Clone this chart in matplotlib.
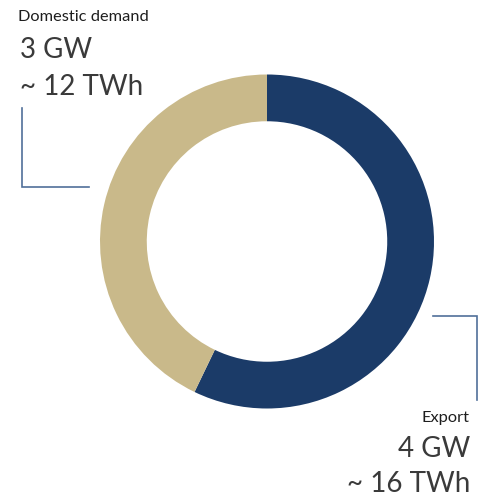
import matplotlib
matplotlib.use("Agg")
import matplotlib.pyplot as plt

# Power split
categories = ["Export", "Domestic demand"]
capacity_gw = [4, 3]
energy_twh = [16, 12]
colors = ["#1b3b68", "#c9b98a"]

W, H = 479, 496
fig = plt.figure(figsize=(W / 100, H / 100), dpi=100)
ax = fig.add_axes([0, 0, 1, 1])
ax.axis("off")


def py(y):
    """Convert a top-down pixel row into the axis's y coordinate."""
    return H - y


ax.pie(capacity_gw, colors=colors, startangle=90, counterclock=False,
       radius=167, center=(267, py(241.5)),
       wedgeprops=dict(width=167 * 0.28, linewidth=0))
ax.set_xlim(0, W)
ax.set_ylim(0, H)
ax.set_aspect("auto")

font = "Lato"
line_col = "#50709a"
label_col = "#1e1e1e"
value_col = "#3a3a3a"

# Domestic demand callout (top left)
ax.text(18, py(21), categories[1], fontsize=11.8, family=font,
        color=label_col, ha="left", va="baseline")
ax.text(20, py(58.5), f"{capacity_gw[1]} GW", fontsize=20, family=font,
        color=value_col, ha="left", va="baseline")
ax.text(20, py(95), f"~ {energy_twh[1]} TWh", fontsize=20, family=font,
        color=value_col, ha="left", va="baseline")
ax.plot([22.5, 22.5, 89], [py(108), py(187), py(187)], color=line_col,
        lw=1.2, solid_joinstyle="miter")

# Export callout (bottom right)
ax.plot([433, 477, 477], [py(316), py(316), py(400)], color=line_col,
        lw=1.2, solid_joinstyle="miter")
ax.text(470, py(422), categories[0], fontsize=11.8, family=font,
        color=label_col, ha="right", va="baseline")
ax.text(470, py(457), f"{capacity_gw[0]} GW", fontsize=20, family=font,
        color=value_col, ha="right", va="baseline")
ax.text(470, py(492), f"~ {energy_twh[0]} TWh", fontsize=20, family=font,
        color=value_col, ha="right", va="baseline")

fig.savefig("out.png", dpi=100, facecolor="white")
